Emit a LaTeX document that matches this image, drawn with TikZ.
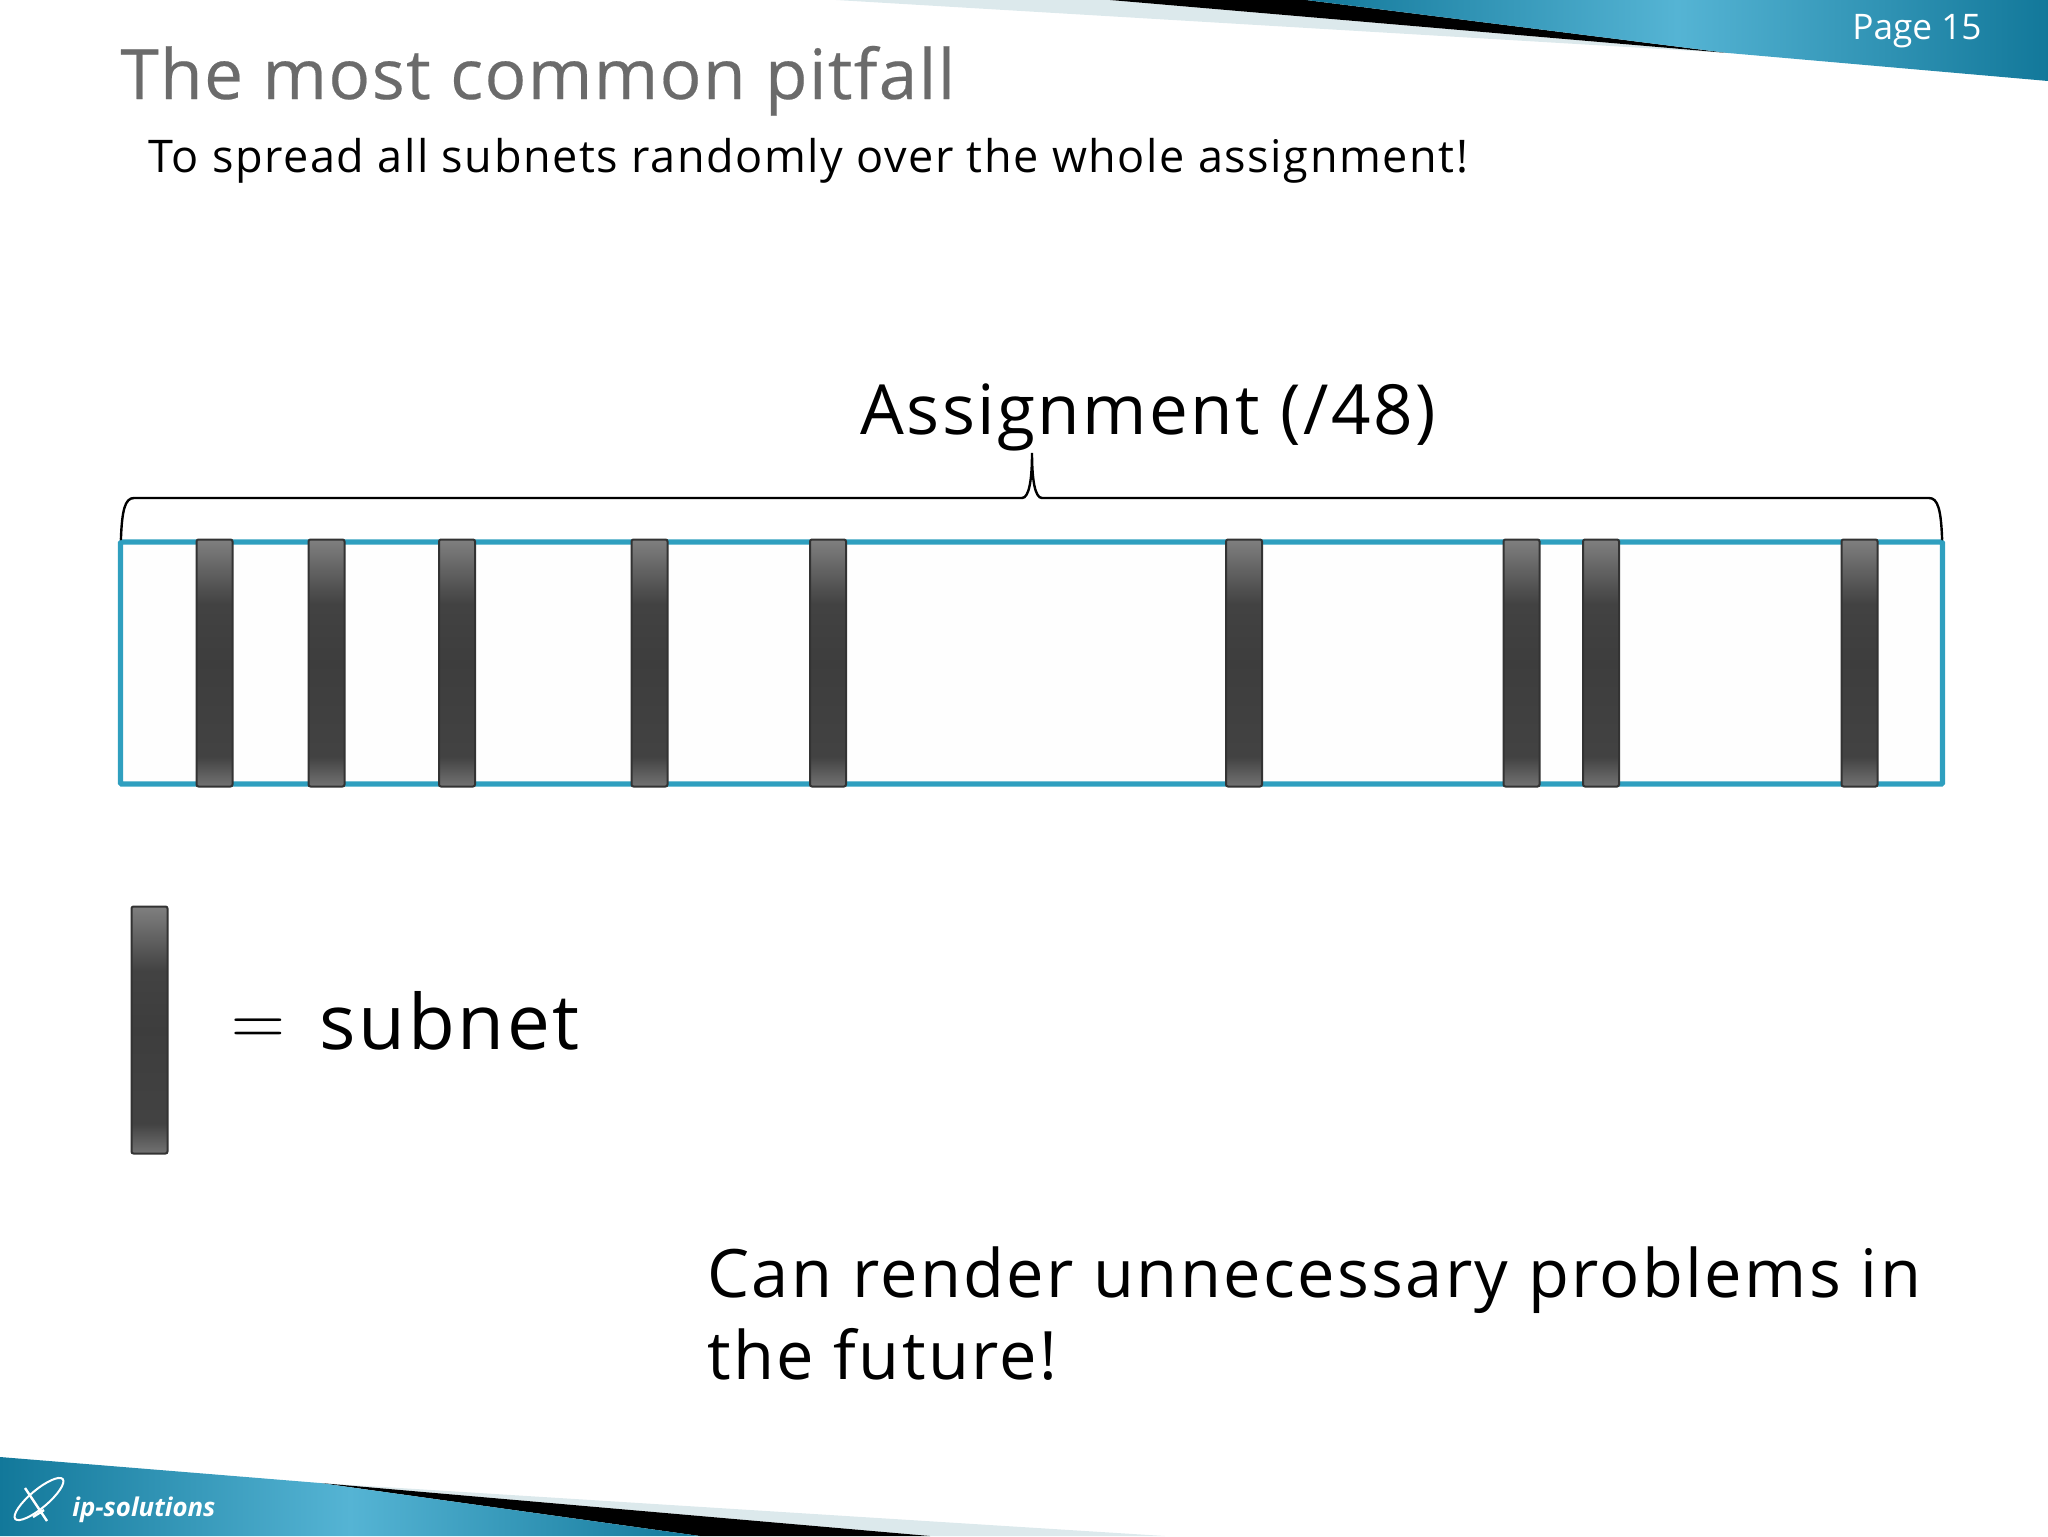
\documentclass[tikz,border=0pt]{standalone}
\usepackage{fontspec}
\setmainfont{Open Sans}
\newfontfamily\spreadfont[LetterSpace=3.5]{Open Sans}
\newfontfamily\headfont[LetterSpace=2,FakeBold=0.3]{Open Sans}
\definecolor{bandDark}{HTML}{12789A}
\definecolor{bandLight}{HTML}{55B4D4}
\definecolor{paleWedge}{HTML}{DCE9EC}
\definecolor{rangeBlue}{HTML}{2F9FBF}
\pgfdeclarehorizontalshading{bandshade}{100bp}{color(0bp)=(bandDark);color(25bp)=(bandDark);color(50bp)=(bandLight);color(75bp)=(bandDark);color(100bp)=(bandDark)}
\pgfdeclareverticalshading{subnetshade}{100bp}{color(0bp)=(black!55);color(25bp)=(black!55);color(31bp)=(black!74);color(50bp)=(black!76);color(62bp)=(black!74);color(75bp)=(black!50);color(100bp)=(black!50)}
\tikzset{
    subnetbar/.style={shade,shading=subnetshade,draw=black!80,line width=1pt,rounded corners=1pt,
        minimum width=18pt,minimum height=123.5pt,inner sep=0pt},
    slidetext/.style={anchor=base west,inner sep=0pt,text=black,font=\spreadfont\fontsize{#1}{#1}\selectfont},
}
\begin{document}
\begin{tikzpicture}[x=0.5pt,y=-0.5pt]
    \useasboundingbox (0,0) rectangle (2048,1536);

    % top band
    \path[coordinate] (836,0) coordinate(paleA) (1110,0) coordinate(blackA)
                (1306,0) coordinate(tealA) (2048,0) coordinate(tealB)
                (2048,81) coordinate(tealC) (1728,53) coordinate(tipA);
    \fill[paleWedge] (paleA) -- (blackA) -- (tipA) -- cycle;
    \fill[black] (blackA) -- (tealA) -- (tipA) -- cycle;
    \shade[shading=bandshade] (tealA) -- (tealB) -- (tealC) -- (tipA) -- cycle;

    % bottom band
    \path[coordinate] (1165,1536) coordinate(paleD) (930,1536) coordinate(blackD)
                (700,1536) coordinate(tealD) (0,1536) coordinate(tealE)
                (0,1457) coordinate(tealF) (320,1483) coordinate(tipD);
    \fill[paleWedge] (paleD) -- (blackD) -- (tipD) -- cycle;
    \fill[black] (blackD) -- (tealD) -- (tipD) -- cycle;
    \shade[shading=bandshade] (tealD) -- (tealE) -- (tealF) -- (tipD) -- cycle;

    \node[anchor=base west,inner sep=0pt,text=white,font=\fontsize{17.6}{17.6}\selectfont] (pagenum) at (1852,40) {Page 15};
    \node[anchor=base west,inner sep=0pt,text=black!58,font=\headfont\fontsize{34.7}{34.7}\selectfont] (headline) at (120,99) {The most common pitfall};
    \node[slidetext=22.5] (spread) at (148,172) {To spread all subnets randomly over the whole assignment!};
    \node[slidetext=34.6] (assigned) at (860,434) {Assignment (/48)};

    \node[draw=rangeBlue,fill=black!0.3,line width=2.6pt,rounded corners=0.5pt,minimum width=911pt,minimum height=121pt,inner sep=0pt] (range) at (1031.5,663) {};

    \foreach \barname/\barx in {a/214.5,b/326.5,c/457,d/649.5,e/828,f/1244,g/1521.5,h/1601,i/1859.5}
        \node[subnetbar] (bar\barname) at (\barx,663) {};

    % brace over the range
    \path[coordinate] ([xshift=1.5pt]range.north west) coordinate(braceL)
                ([xshift=-1.5pt]range.north east) coordinate(braceR)
                (1032,453) coordinate(braceTip);
    \draw[line width=1.2pt,line cap=round] (braceL) .. controls (122,510) and (125,498) .. (134,498)
        -- (1022,498) .. controls (1029,498) and (1032,480) .. (braceTip)
        .. controls (1032,480) and (1035,498) .. (1042,498)
        -- (1929,498) .. controls (1938,498) and (1941,510) .. (braceR);

    \node[subnetbar] (legendbar) at (149.5,1030) {};
    \node[anchor=base west,inner sep=0pt] (equals) at (231,1045) {\scalebox{1.5}{\fontsize{24.88}{24.88}\selectfont $=$}};
    \node[slidetext=38.2] (subnetword) at (319,1049) {subnet};

    \node[anchor=base west,align=left,inner sep=0pt,font=\spreadfont\fontsize{33.4}{41}\selectfont] (problems) at (707,1379) {Can render unnecessary problems in\\the future!};

    % logo
    \path[coordinate] (25,1488) coordinate(logoA) (47,1521) coordinate(logoB)
                (33,1517) coordinate(logoC) (44,1510) coordinate(logoD);
    \draw[white,line width=1pt,rotate around={40:(39,1499)}] (39,1499) ellipse (31 and 9);
    \draw[white,line width=1.2pt] (logoA) -- (logoB) (logoC) -- (logoD);
    \node[anchor=base west,inner sep=0pt,text=white,font=\bfseries\itshape\fontsize{12.9}{12.9}\selectfont] (brand) at (72,1516) {ip-solutions};
\end{tikzpicture}
\end{document}
